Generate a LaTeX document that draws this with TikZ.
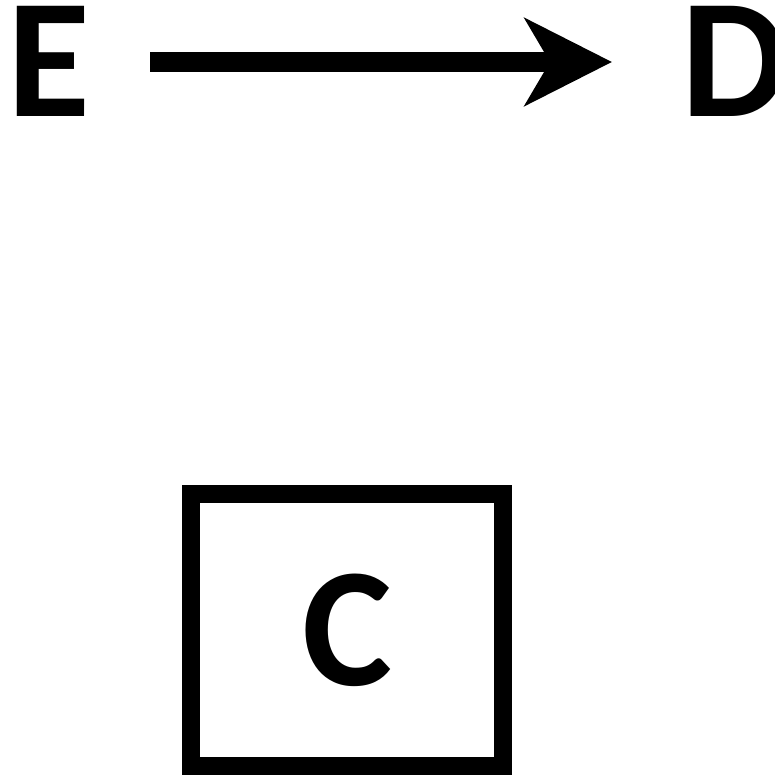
\documentclass[tikz,border=0pt]{standalone}
\usepackage{fontspec}
\setmainfont{Carlito}
\usetikzlibrary{arrows.meta}
\tikzset{
  letter/.style={font=\bfseries\fontsize{170}{170}\selectfont, inner sep=0pt, outer sep=0pt},
  boxnode/.style={draw, line width=18pt, minimum width=311.5pt, minimum height=272.5pt, inner sep=0pt},
  bigarrow/.style={line width=20pt, -{Stealth[length=87pt, width=87pt, inset=25pt]}}
}
\begin{document}
\begin{tikzpicture}[x=1pt,y=1pt]
\useasboundingbox (0,0) rectangle (775,-775);
\node[letter, anchor=base west] (E) at (8,-117) {E};
\node[letter, anchor=base west] (D) at (681,-117) {D};
\node[letter, boxnode] (C) at (347,-630) {C};
\draw[bigarrow] ([shift={(142pt,55pt)}]E.base west) -- ([shift={(-69pt,55pt)}]D.base west);
\end{tikzpicture}
\end{document}
